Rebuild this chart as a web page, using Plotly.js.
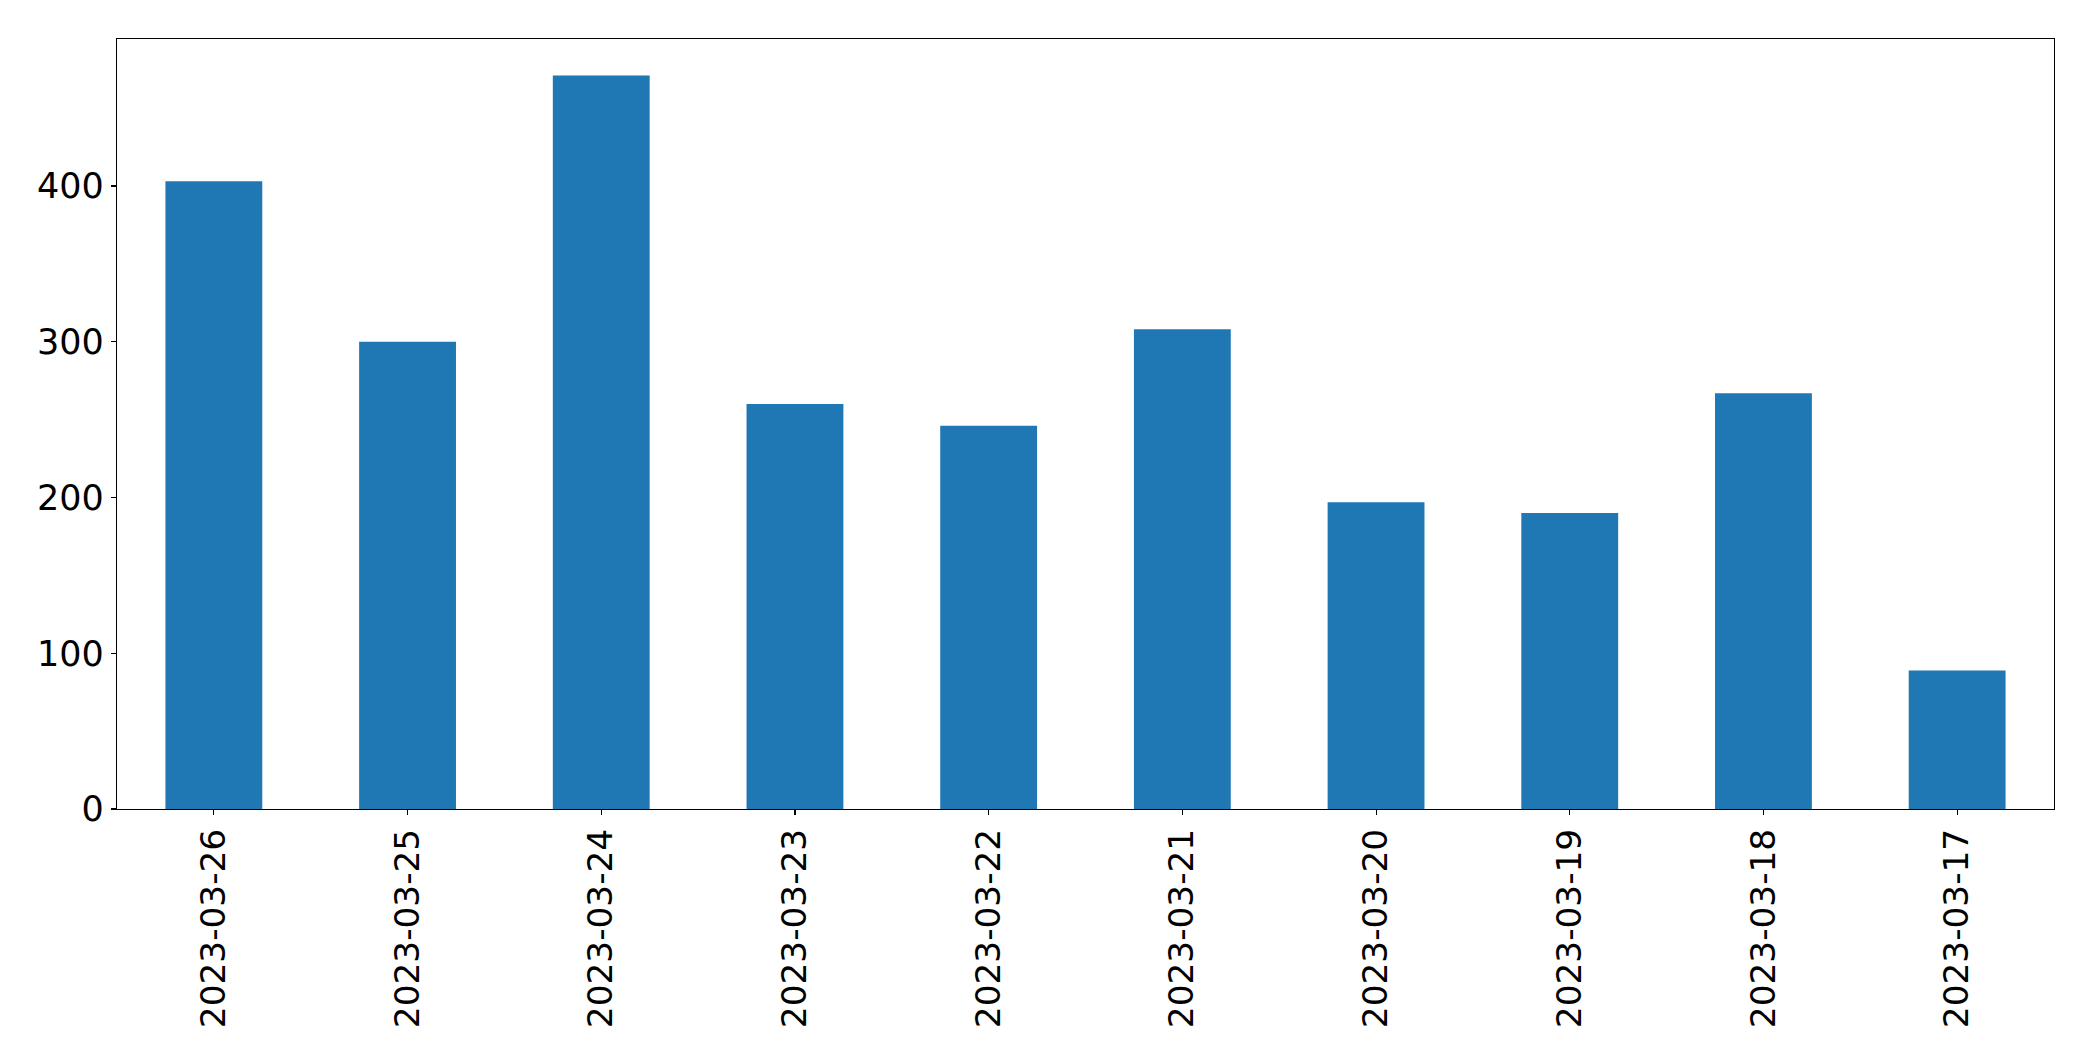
<!DOCTYPE html>
<html>
<head>
<meta charset="utf-8">
<script src="https://cdn.plot.ly/plotly-3.0.1.min.js"></script>
<style>
  html, body { margin: 0; padding: 0; background: #ffffff; }
  #chart { width: 2093px; height: 1061px; }
</style>
</head>
<body>
<div id="chart"></div>
<script>
const dates = ["2023-03-26", "2023-03-25", "2023-03-24", "2023-03-23", "2023-03-22",
               "2023-03-21", "2023-03-20", "2023-03-19", "2023-03-18", "2023-03-17"];
const counts = [403, 300, 471, 260, 246, 308, 197, 190, 267, 89];
const yTicks = [0, 100, 200, 300, 400];

const trace = {
  type: "bar",
  x: dates,
  y: counts,
  width: 0.5,
  marker: { color: "#1f77b4", line: { width: 0 } },
  hoverinfo: "x+y"
};

const layout = {
  width: 2093,
  height: 1061,
  margin: { l: 116.5, r: 39.3, t: 39.3, b: 252.4, pad: 0 },
  paper_bgcolor: "#ffffff",
  plot_bgcolor: "#ffffff",
  showlegend: false,
  font: { family: "DejaVu Sans", size: 34.3, color: "#000000" },
  xaxis: {
    type: "category",
    range: [-0.5, dates.length - 0.5],
    showgrid: false,
    zeroline: false,
    showline: true,
    linecolor: "#000000",
    linewidth: 1.1,
    mirror: true,
    ticks: "outside",
    ticklen: 5,
    tickwidth: 1.1,
    tickcolor: "#000000",
    tickangle: -90,
    tickfont: { family: "DejaVu Sans", size: 34.3, color: "#000000" }
  },
  yaxis: {
    range: [0, 494.4],
    tickvals: yTicks,
    ticktext: yTicks.map(String),
    showgrid: false,
    zeroline: false,
    showline: true,
    linecolor: "#000000",
    linewidth: 1.1,
    mirror: true,
    ticks: "outside",
    ticklen: 5,
    tickwidth: 1.1,
    tickcolor: "#000000",
    tickfont: { family: "DejaVu Sans", size: 35, color: "#000000" }
  }
};

Plotly.newPlot("chart", [trace], layout, { displayModeBar: false, staticPlot: true });
</script>
</body>
</html>
